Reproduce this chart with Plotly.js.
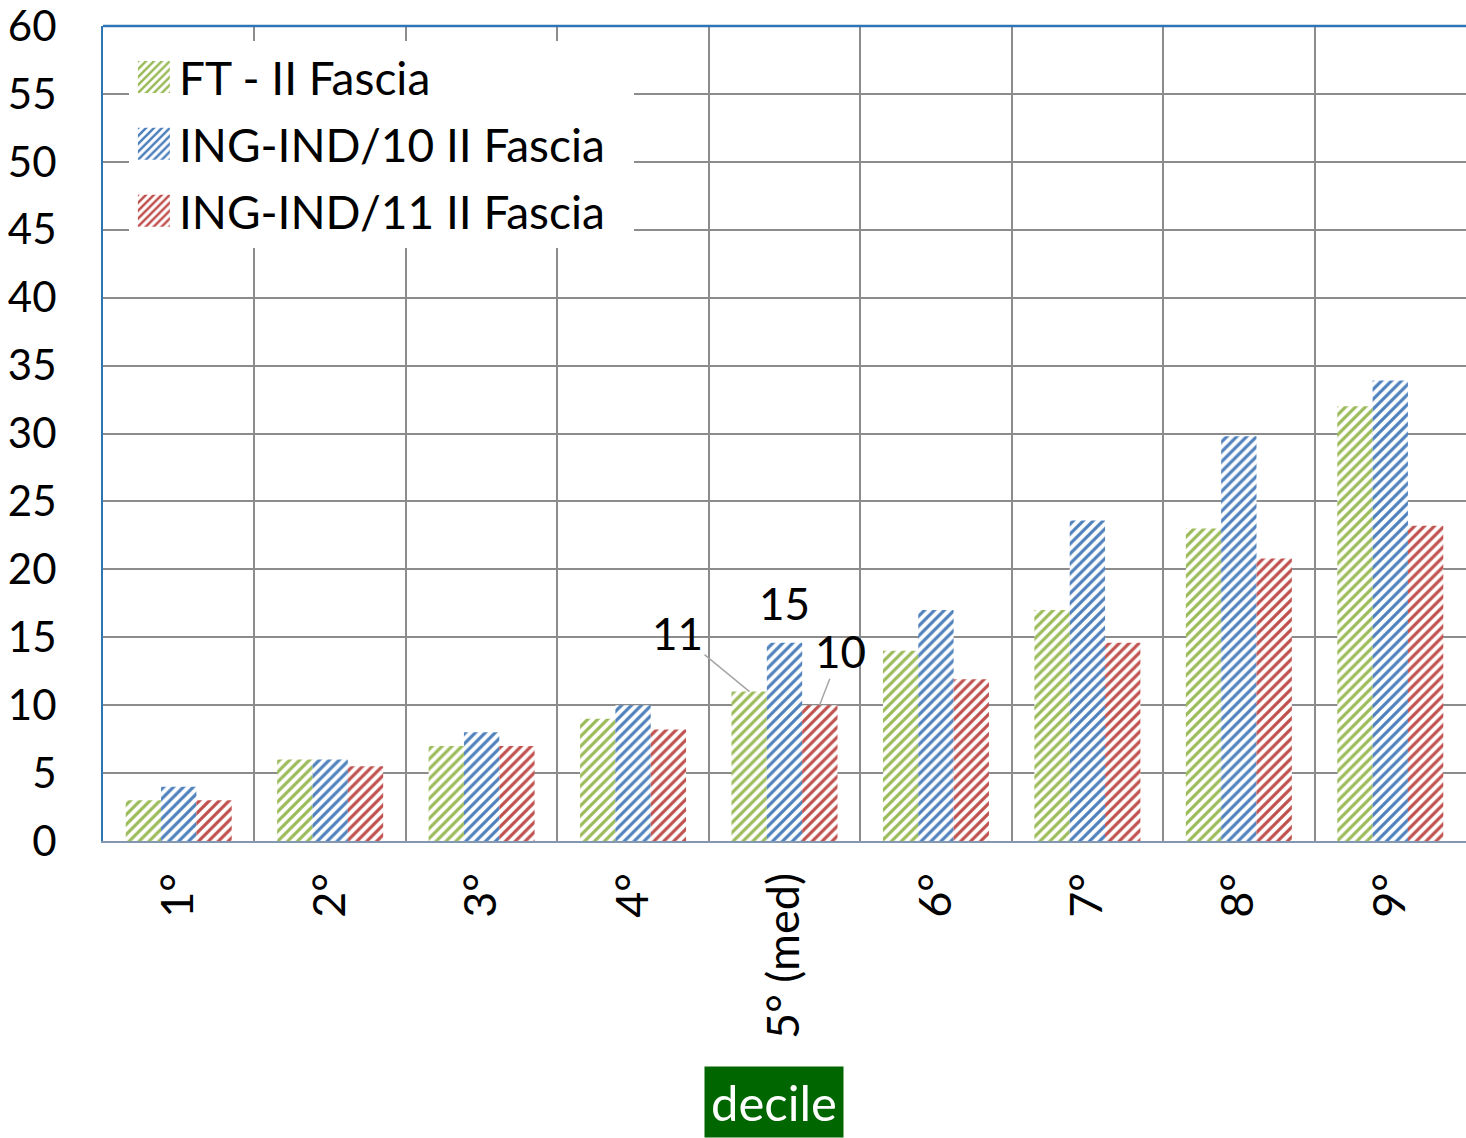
<!DOCTYPE html>
<html>
<head>
<meta charset="utf-8">
<script src="https://cdn.plot.ly/plotly-3.0.1.min.js"></script>
<style>html,body{margin:0;padding:0;background:#fff;}#chart{width:1466px;height:1138px;}</style>
</head>
<body>
<div id="chart"></div>
<script>
const categories = ['1°', '2°', '3°', '4°', '5° (med)', '6°', '7°', '8°', '9°'];
const ftValues = [3, 6, 7, 9, 11, 14, 17, 23, 32];
const ing10Values = [4, 6, 8, 10, 14.6, 17, 23.6, 29.8, 33.9];
const ing11Values = [3, 5.5, 7, 8.2, 10, 11.9, 14.6, 20.8, 23.2];
const seriesNames = ['FT - II Fascia', 'ING-IND/10 II Fascia', 'ING-IND/11 II Fascia'];
const yTicks = [0, 5, 10, 15, 20, 25, 30, 35, 40, 45, 50, 55, 60];
const medianIndex = 4;

const FONT = 'Lato, "Open Sans", sans-serif';
const colors = ['#9bbb59', '#4f81bd', '#c0504d'];
const series = [ftValues, ing10Values, ing11Values];
const legendPad = '\u00a0\u00a0';

const traces = series.map((vals, i) => ({
  type: 'bar',
  x: categories,
  y: vals,
  name: seriesNames[i] + legendPad,
  legendgroup: 'g' + i,
  marker: {
    color: '#ffffff',
    line: {width: 0},
    pattern: {shape: '/', fgcolor: colors[i], bgcolor: '#ffffff', size: 7, solidity: 0.45}
  },
  hoverinfo: 'x+y'
}));

const cat = categories[medianIndex];
const annotations = [
  {x: cat, y: ftValues[medianIndex], xref: 'x', yref: 'y', xshift: -35,
   text: String(Math.round(ftValues[medianIndex])), showarrow: true, arrowhead: 0,
   arrowcolor: '#a6a6a6', arrowwidth: 1.5, ax: -72, ay: -59,
   font: {family: FONT, size: 44, color: '#000'}},
  {x: cat, y: ing10Values[medianIndex], xref: 'x', yref: 'y',
   text: String(Math.round(ing10Values[medianIndex])), showarrow: false,
   yanchor: 'bottom', yshift: 12,
   font: {family: FONT, size: 44, color: '#000'}},
  {x: cat, y: ing11Values[medianIndex], xref: 'x', yref: 'y', xshift: 35,
   text: String(Math.round(ing11Values[medianIndex])), showarrow: true, arrowhead: 0,
   arrowcolor: '#a6a6a6', arrowwidth: 1.5, ax: 21, ay: -54,
   font: {family: FONT, size: 44, color: '#000'}},
  {x: 0.492, y: -0.320, xref: 'paper', yref: 'paper', text: 'decile', showarrow: false,
   xanchor: 'center', yanchor: 'middle', bgcolor: '#006600', borderpad: 6,
   font: {family: FONT, size: 49, color: '#ffffff'}}
];

const layout = {
  width: 1466, height: 1138,
  margin: {l: 103, r: 0, t: 26, b: 297},
  paper_bgcolor: '#ffffff', plot_bgcolor: '#ffffff',
  barmode: 'group', bargap: 0.3, bargroupgap: 0,
  showlegend: true,
  legend: {x: 0.019, y: 0.982, xanchor: 'left', yanchor: 'top', bgcolor: '#ffffff',
           font: {family: FONT, size: 46, color: '#000'}, borderwidth: 0,
           tracegroupgap: 4, itemwidth: 40},
  font: {family: FONT, size: 40, color: '#000'},
  xaxis: {
    type: 'category', tickson: 'boundaries', showgrid: true, gridcolor: '#8c8c8c', gridwidth: 2,
    tickangle: -90, ticks: '', ticklabelstandoff: 12,
    tickfont: {family: FONT, size: 45, color: '#000'},
    showline: true, linecolor: '#8497b0', linewidth: 2, zeroline: false
  },
  yaxis: {
    range: [0, 60], tickvals: yTicks, ticktext: yTicks.map(String),
    showgrid: true, gridcolor: '#8c8c8c', gridwidth: 2,
    ticks: '', ticklabelstandoff: 36, ticklabeloverflow: 'allow',
    tickfont: {family: FONT, size: 42, color: '#000'},
    showline: true, linecolor: '#2e75b6', linewidth: 2, zeroline: false
  },
  shapes: [
    {type: 'line', xref: 'paper', yref: 'paper', x0: 0, x1: 1, y0: 1, y1: 1,
     line: {color: '#2e75b6', width: 2.5}}
  ],
  annotations: annotations
};

Plotly.newPlot('chart', traces, layout, {displayModeBar: false, staticPlot: true}).then(gd => {
  // enlarge the legend swatches to match the reference's big hatched squares
  gd.querySelectorAll('.legend .legendpoints path').forEach(p => {
    p.setAttribute('d', 'M16,16H-16V-16H16Z');
  });
});
</script>
</body>
</html>
